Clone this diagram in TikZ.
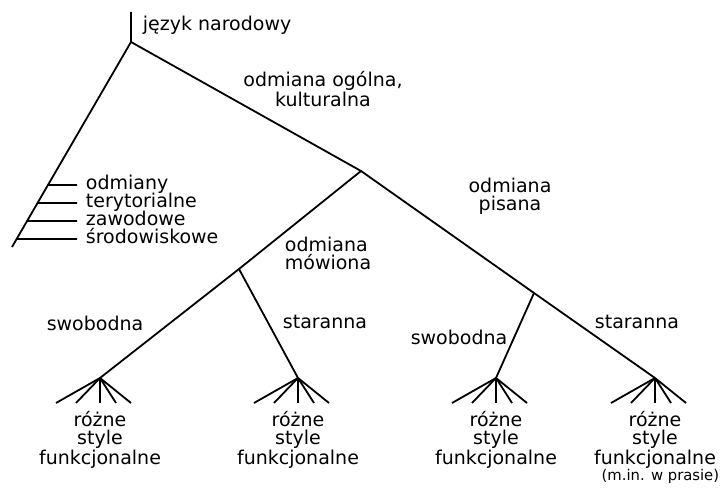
\documentclass[tikz,border=0pt]{standalone}
\usepackage{fontspec}
\setmainfont{DejaVu Sans}
\usetikzlibrary{calc}
\begin{document}
\begin{tikzpicture}[x=0.5pt,y=-0.5pt,line width=0.9pt,
  lbl/.style={font=\fontsize{9.5}{9}\selectfont,inner sep=1pt,align=center},
  tick/.style={lbl,anchor=west,text height=7pt,text depth=2pt}]
\useasboundingbox (0,0) rectangle (722,490);
\coordinate (top) at (131,12);
\coordinate (root) at (131,42);
\coordinate (left) at (12,247);
\coordinate (ogolna) at (361,171);
\coordinate (mowiona) at (239,269);
\coordinate (pisana) at (534,293);
\coordinate (f1) at (100,378);
\coordinate (f2) at (298,378);
\coordinate (f3) at (496,378);
\coordinate (f4) at (655,378);
\draw (top) -- (root) -- (left);
\draw (root) -- (ogolna) -- (pisana) -- (f4);
\draw (ogolna) -- (mowiona) -- (f1);
\draw (mowiona) -- (f2);
\draw (pisana) -- (f3);
\foreach \f in {f1,f2,f3,f4}
  \foreach \d in {-44,-24,0,16,31}
    \draw (\f) -- ++(\d,25);
\foreach \t/\y/\txt [count=\i] in {0.698/185/odmiany,0.785/203/terytorialne,0.873/221/zawodowe,0.961/239/środowiskowe} {
  \node[tick] (t\i) at (83,\y) {\txt};
  \draw ($(root)!\t!(left)$) -- (t\i.west) [shorten >=3pt];
}
\node[lbl,anchor=base west] (narodowy) at (140,31) {język narodowy};
\node[lbl] (kulturalna) at (323,89) {odmiana ogólna,\\kulturalna};
\node[lbl,align=left] (mow) at (328,253) {odmiana\\mówiona};
\node[lbl] (pis) at (510,196) {odmiana\\pisana};
\node[lbl] (swob1) at (95,323) {swobodna};
\node[lbl] (star1) at (325,322) {staranna};
\node[lbl] (swob2) at (459,337) {swobodna};
\node[lbl] (star2) at (637,322) {staranna};
\foreach \f in {f1,f2,f3,f4}
  \node[lbl,anchor=north] (s\f) at ($(\f)+(0,30)$) {różne\\style\\funkcjonalne};
\node[lbl,font=\fontsize{7.4}{8}\selectfont,anchor=east] (prasie) at (722,476) {(m.in. w prasie)};
\end{tikzpicture}
\end{document}
